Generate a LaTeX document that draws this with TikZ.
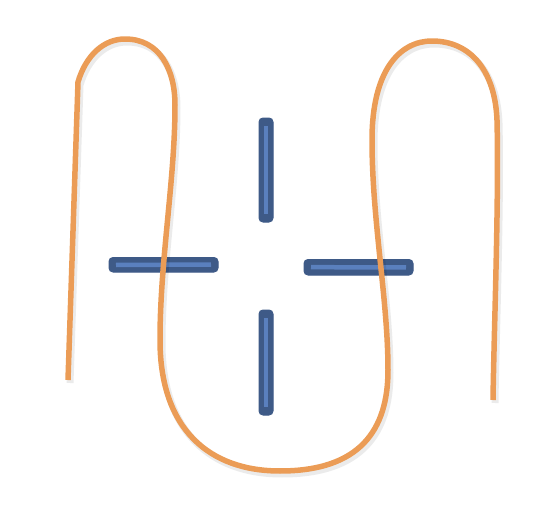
\documentclass[tikz,border=0pt]{standalone}
\usepackage{tikz}
\usetikzlibrary{calc}
\definecolor{ropeorange}{HTML}{EB9C56}
\definecolor{bardark}{HTML}{3E5A87}
\definecolor{barlight}{HTML}{5A80BE}

\begin{document}
\begin{tikzpicture}[x=1pt, y=-1pt,
  rope/.style={line width=5.5pt, color=ropeorange, line cap=butt, line join=round},
  ropeshadow/.style={line width=7pt, color=black, opacity=0.08, line join=round},
  bar/.style={fill=bardark, draw=bardark, line width=1pt, rounded corners=4pt},
  barcore/.style={line width=4.5pt, color=barlight}
]
\useasboundingbox (0,0) rectangle (542,522);

% Bars (behind the rope)
\coordinate (tA) at (259,118);  \coordinate (tB) at (273,222);
\coordinate (bA) at (259,310);  \coordinate (bB) at (273,415);
\coordinate (lA) at (109,257.5);  \coordinate (lB) at (218,272);
\coordinate (rA) at (304,259.5);  \coordinate (rB) at (413,275);

\foreach \p/\q in {tA/tB, bA/bB, lA/lB, rA/rB}{
  \draw[bar] (\p) rectangle (\q);
}
\draw[barcore] (266,126) -- (266,214);
\draw[barcore] (266,318) -- (266,407);
\draw[barcore] (116,265) -- (211,264.5);
\draw[barcore] (311,267.2) -- (406,267.4);

% Rope
\def\ropepath{(68,380) -- (78,82)
  .. controls (86,55) and (104,39) .. (125,39)
  .. controls (160,39) and (175,70) .. (175,105)
  .. controls (175,180) and (160,260) .. (160,340)
  .. controls (160,430) and (210,471) .. (280,471)
  .. controls (360,471) and (388,430) .. (388,370)
  .. controls (388,300) and (372,220) .. (372,140)
  .. controls (372,70) and (400,41) .. (432,41)
  .. controls (470,41) and (495,70) .. (497,120)
  .. controls (499,200) and (494,330) .. (493,400)}

\begin{scope}[shift={(2,3)}]
  \draw[ropeshadow] \ropepath;
\end{scope}
\draw[rope] \ropepath;

\end{tikzpicture}
\end{document}
